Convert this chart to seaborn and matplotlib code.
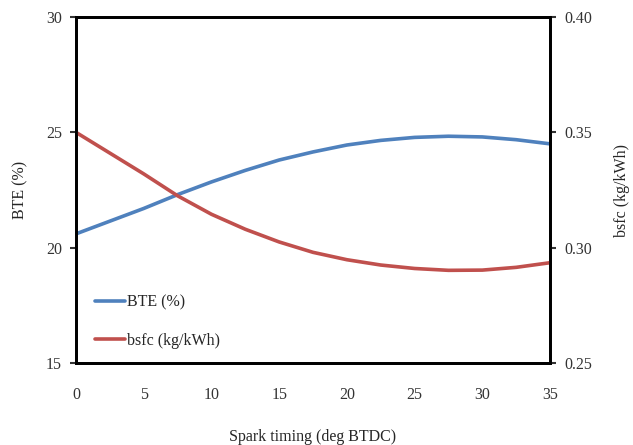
import pandas as pd
import matplotlib
matplotlib.use("Agg")
import matplotlib.pyplot as plt
import seaborn as sns

# valores
spark_timing = [0, 2.5, 5, 7.5, 10, 12.5, 15, 17.5, 20, 22.5, 25, 27.5, 30, 32.5, 35]
bte = [20.6, 21.15, 21.7, 22.3, 22.85, 23.35, 23.8, 24.15, 24.45, 24.65, 24.78, 24.83, 24.8, 24.68, 24.5]
bsfc = [0.350, 0.341, 0.332, 0.3225, 0.3145, 0.308, 0.3025, 0.298, 0.2948, 0.2925,
        0.291, 0.2902, 0.2903, 0.2915, 0.2935]

df = pd.DataFrame({'spark': spark_timing, 'bte': bte, 'bsfc': bsfc})

sns.set_style('white')
plt.rcParams['font.family'] = ['Liberation Serif', 'DejaVu Serif']

fig = plt.figure(figsize=(6.33, 4.45), dpi=100)
ax = fig.add_axes([0.120, 0.184, 0.749, 0.778])
ax2 = ax.twinx()

azul = '#4F81BD'
vermelho = '#C0504D'

sns.lineplot(data=df, x='spark', y='bte', ax=ax, color=azul, linewidth=2.6, label='BTE (%)', legend=False)
sns.lineplot(data=df, x='spark', y='bsfc', ax=ax2, color=vermelho, linewidth=2.6, label='bsfc (kg/kWh)', legend=False)

ax.set_xlim(0, 35)
ax.set_ylim(15, 30)
ax2.set_ylim(0.25, 0.40)
ax.set_xticks([0, 5, 10, 15, 20, 25, 30, 35])
ax.set_yticks([15, 20, 25, 30])
ax2.set_yticks([0.25, 0.30, 0.35, 0.40])
ax2.set_yticklabels(['0.25', '0.30', '0.35', '0.40'])

ax.set_xlabel('Spark timing (deg BTDC)', fontsize=11.5, labelpad=19)
ax.set_ylabel('BTE (%)', fontsize=11.5, labelpad=13)
ax2.set_ylabel('bsfc (kg/kWh)', fontsize=11.5, labelpad=16)

for a in (ax, ax2):
    for s in a.spines.values():
        s.set_linewidth(2)
        s.set_color('black')
    a.tick_params(direction='out', length=4, width=1.5, labelsize=11.5, colors='#333333', pad=6)
ax.tick_params(axis='x', pad=13)

# legenda
h1, l1 = ax.get_legend_handles_labels()
h2, l2 = ax2.get_legend_handles_labels()
ax.legend(h1 + h2, l1 + l2, loc='lower left', bbox_to_anchor=(0.01, 0.0), frameon=False,
          fontsize=11.5, handlelength=1.9, handletextpad=0.1, labelspacing=1.4)

plt.savefig('out.png', dpi=100)
